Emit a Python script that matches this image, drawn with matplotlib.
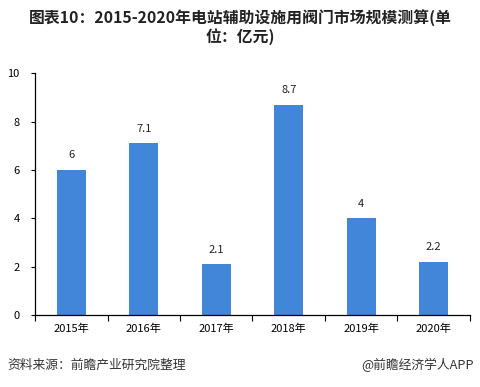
import matplotlib.pyplot as plt
import numpy as np

plt.rcParams['font.family'] = ['Noto Sans CJK SC', 'DejaVu Sans']

years = ['2015年', '2016年', '2017年', '2018年', '2019年', '2020年']
values = [6, 7.1, 2.1, 8.7, 4, 2.2]
value_labels = ['6', '7.1', '2.1', '8.7', '4', '2.2']

fig = plt.figure(figsize=(4.8, 3.87), dpi=100)
ax = fig.add_axes([0.073, 0.186, 0.906, 0.625])

x = np.arange(len(years))
bars = ax.bar(x, values, width=0.4, color='#4186d9')

for xi, v, lab in zip(x, values, value_labels):
    ax.text(xi, v + 0.4, lab, ha='center', va='bottom', fontsize=8, color='#222222')

ax.set_xlim(-0.5, len(years) - 0.5)
ax.set_ylim(0, 10)
ax.set_yticks([0, 2, 4, 6, 8, 10])
ax.set_xticks(x)
ax.set_xticklabels(years)
ax.set_xticks(np.arange(-0.5, len(years)), minor=True)
ax.tick_params(axis='x', which='major', length=0, labelsize=8, pad=6)
ax.tick_params(axis='x', which='minor', length=4, width=0.8, direction='out')
ax.tick_params(axis='y', length=3, width=0.8, labelsize=8, pad=8)

for s in ['top', 'right']:
    ax.spines[s].set_visible(False)
ax.spines['left'].set_linewidth(0.9)
ax.spines['bottom'].set_linewidth(0.9)

fig.text(0.5, 0.929, '图表10：2015-2020年电站辅助设施用阀门市场规模测算(单\n位：亿元)',
         ha='center', va='center', fontsize=11.4, fontweight='bold',
         linespacing=1.1, color='#222222')

fig.text(0.015, 0.057, '资料来源：前瞻产业研究院整理', ha='left', va='center',
         fontsize=9.2, color='#333333')
fig.text(0.988, 0.057, '@前瞻经济学人APP', ha='right', va='center',
         fontsize=9.2, color='#333333')

fig.savefig('out.png', dpi=100)
